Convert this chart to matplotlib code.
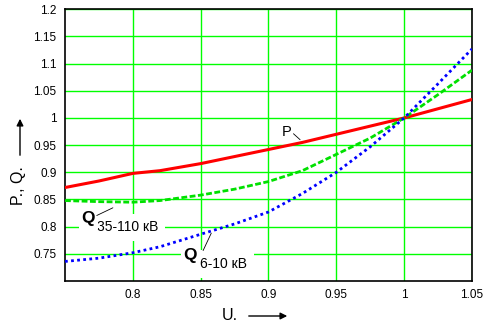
import matplotlib.pyplot as plt
from matplotlib.patches import FancyArrowPatch

plt.rcParams['font.family'] = ['Liberation Sans', 'DejaVu Sans']

# voltage in per-unit
U = [0.75, 0.775, 0.8, 0.82, 0.85, 0.875, 0.9, 0.925, 0.95, 0.975, 1.0, 1.025, 1.05]
# active load
P = [0.872, 0.884, 0.898, 0.903, 0.916, 0.929, 0.942, 0.955, 0.970, 0.985, 1.0, 1.017, 1.034]
# reactive load, 35-110 kV
Q_hv = [0.848, 0.846, 0.845, 0.848, 0.858, 0.869, 0.883, 0.903, 0.933, 0.963, 1.0, 1.043, 1.088]
# reactive load, 6-10 kV
Q_mv = [0.736, 0.742, 0.752, 0.763, 0.786, 0.805, 0.827, 0.861, 0.900, 0.947, 1.0, 1.063, 1.127]

x_ticks = [0.8, 0.85, 0.9, 0.95, 1.0, 1.05]
x_tick_labels = ['0.8', '0.85', '0.9', '0.95', '1', '1.05']
y_ticks = [0.75, 0.8, 0.85, 0.9, 0.95, 1.0, 1.05, 1.1, 1.15, 1.2]
y_tick_labels = ['0.75', '0.8', '0.85', '0.9', '0.95', '1', '1.05', '1.1', '1.15', '1.2']

fig = plt.figure(figsize=(4.95, 3.27), dpi=100)
ax = fig.add_axes([0.1313, 0.1407, 0.8222, 0.8309])

ax.plot(U, P, color='#ff0000', lw=2.2, zorder=4)
ax.plot(U, Q_hv, color='#00e000', lw=2.0, ls=(0, (2.1, 0.9)), dash_capstyle='butt', zorder=4)
ax.plot(U, Q_mv, color='#0000ff', lw=2.0, ls=(0, (1.0, 1.2)), dash_capstyle='butt', zorder=4)

ax.set_xlim(0.75, 1.05)
ax.set_ylim(0.7, 1.2)
ax.set_xticks(x_ticks, x_tick_labels)
ax.set_yticks(y_ticks, y_tick_labels)
ax.tick_params(length=0, labelsize=8.5)
ax.tick_params(axis='y', pad=6)
ax.tick_params(axis='x', pad=6)
ax.set_axisbelow(True)
ax.grid(True, color='#00ff00', lw=1.0)
for s in ax.spines.values():
    s.set_color('black')
    s.set_linewidth(1.2)

sub_box = dict(facecolor='white', edgecolor='none', pad=5)
q_box = dict(facecolor='white', edgecolor='none', pad=2)
leader = dict(arrowstyle='-', lw=0.6, color='black', shrinkA=0, shrinkB=0)

# curve labels and their leader lines
ax.text(0.9135, 0.974, 'P', fontsize=10.5, ha='center', va='center')
ax.annotate('', xy=(0.9233, 0.960), xytext=(0.9184, 0.971), arrowprops=leader)

ax.text(0.7735, 0.7985, '35-110 кВ', fontsize=10, ha='left', va='center', bbox=sub_box, zorder=3)
ax.text(0.767, 0.815, 'Q', fontsize=12.5, fontweight='bold',
        ha='center', va='center', bbox=q_box, zorder=3.2)
ax.annotate('', xy=(0.7853, 0.8347), xytext=(0.7734, 0.8205), arrowprops=leader, zorder=3.5)

ax.text(0.8495, 0.7318, '6-10 кВ', fontsize=10, ha='left', va='center', bbox=sub_box, zorder=3)
ax.text(0.8425, 0.7466, 'Q', fontsize=12.5, fontweight='bold',
        ha='center', va='center', bbox=q_box, zorder=3.2)
ax.annotate('', xy=(0.8578, 0.7879), xytext=(0.8518, 0.756), arrowprops=leader, zorder=3.5)

# axis titles with arrows
fig.text(230 / 495, 1 - 316 / 327, 'U.', fontsize=11.5, ha='center', va='center')
fig.text(18 / 495, 1 - 186 / 327, 'P., Q.', fontsize=11.5, ha='center', va='center', rotation=90)
fig.add_artist(FancyArrowPatch(
    (246 / 495, 1 - 316 / 327), (290 / 495, 1 - 316 / 327), transform=fig.transFigure,
    arrowstyle='-|>,head_length=4,head_width=2', mutation_scale=1, lw=1, color='black'))
fig.add_artist(FancyArrowPatch(
    (20 / 495, 1 - 158 / 327), (20 / 495, 1 - 116 / 327), transform=fig.transFigure,
    arrowstyle='-|>,head_length=4,head_width=2', mutation_scale=1, lw=1, color='black'))

fig.savefig('out.png', dpi=100)
